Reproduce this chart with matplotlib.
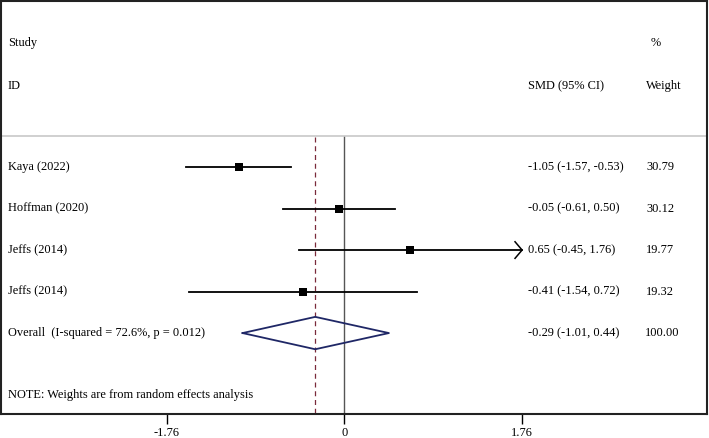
import numpy as np
import matplotlib
matplotlib.use('Agg')
import matplotlib.pyplot as plt

plt.rcParams['font.family'] = ['Liberation Serif', 'DejaVu Serif']

# study data
studies = ['Kaya (2022)', 'Hoffman (2020)', 'Jeffs (2014)', 'Jeffs (2014)']
smd = [-1.05, -0.05, 0.65, -0.41]
ci_low = [-1.57, -0.61, -0.45, -1.54]
ci_high = [-0.53, 0.50, 1.76, 0.72]
weights = [30.79, 30.12, 19.77, 19.32]

overall_label = 'Overall  (I-squared = 72.6%, p = 0.012)'
overall_smd = -0.29
overall_low = -1.01
overall_high = 0.44

xticks = [-1.76, 0, 1.76]
xtick_labels = ['-1.76', '0', '1.76']
axis_max = 1.76

W, H = 709, 438
fig = plt.figure(figsize=(W / 100, H / 100), dpi=100)
ax = fig.add_axes([1 / W, (H - 414) / H, 706 / W, 413 / H])

px = 100.9  # pixels per unit
x0 = 344.5
ax.set_xlim((1 - x0) / px, (707 - x0) / px)
ax.set_ylim(5.95, -4.0)

fs = 8.95
txt_x = (8 - x0) / px
smd_x = (528 - x0) / px
wt_x = (646 - x0) / px

# headers
ax.text(txt_x, -3, 'Study', fontsize=fs, va='center')
ax.text(wt_x + 0.05, -3, '%', fontsize=fs, va='center')
ax.text(txt_x, -1.95, 'ID', fontsize=fs, va='center')
ax.text(smd_x, -1.95, 'SMD (95% CI)', fontsize=fs, va='center')
ax.text(wt_x, -1.95, 'Weight', fontsize=fs, va='center')
ax.axhline(-0.75, color='#c8c8c8', lw=1.2)

# reference lines
ax.plot([0, 0], [-0.72, 5.95], color='#555555', lw=1.0)
ax.plot([overall_smd, overall_smd], [-0.72, 5.95], color='#7a2a3a', lw=0.9,
        ls=(0, (4, 3)))

for i, (name, m, lo, hi, w) in enumerate(zip(studies, smd, ci_low, ci_high, weights)):
    ax.plot([lo, hi], [i, i], color='black', lw=1.3)
    ax.plot(m, i, marker='s', color='black', ms=5.6 * (w / 30.79) ** 0.2, mew=0)
    if hi >= axis_max:
        ax.plot([hi - 0.07, hi, hi - 0.07], [i - 0.2, i, i + 0.2], color='black', lw=1.1)
    ax.text(txt_x, i, name, fontsize=fs, va='center')
    ax.text(smd_x, i, '%.2f (%.2f, %.2f)' % (m, lo, hi), fontsize=fs, va='center')
    ax.text(wt_x, i, '%.2f' % w, fontsize=fs, va='center')

# overall diamond
r = len(studies)
ax.plot([overall_low, overall_smd, overall_high, overall_smd, overall_low],
        [r, r - 0.39, r, r + 0.39, r], color='#1f2766', lw=1.3)
ax.text(txt_x, r, overall_label, fontsize=fs, va='center')
ax.text(smd_x, r, '%.2f (%.2f, %.2f)' % (overall_smd, overall_low, overall_high),
        fontsize=fs, va='center')
ax.text(wt_x - 0.01, r, '100.00', fontsize=fs, va='center')

ax.text(txt_x, 5.5, 'NOTE: Weights are from random effects analysis', fontsize=fs, va='center')

for s in ax.spines.values():
    s.set_linewidth(1.5)
    s.set_color('#222222')
ax.set_yticks([])
ax.set_xticks(xticks)
ax.set_xticklabels(xtick_labels, fontsize=fs)
ax.tick_params(axis='x', direction='out', length=7, width=1.0, pad=2)

fig.savefig('out.png', dpi=100)
